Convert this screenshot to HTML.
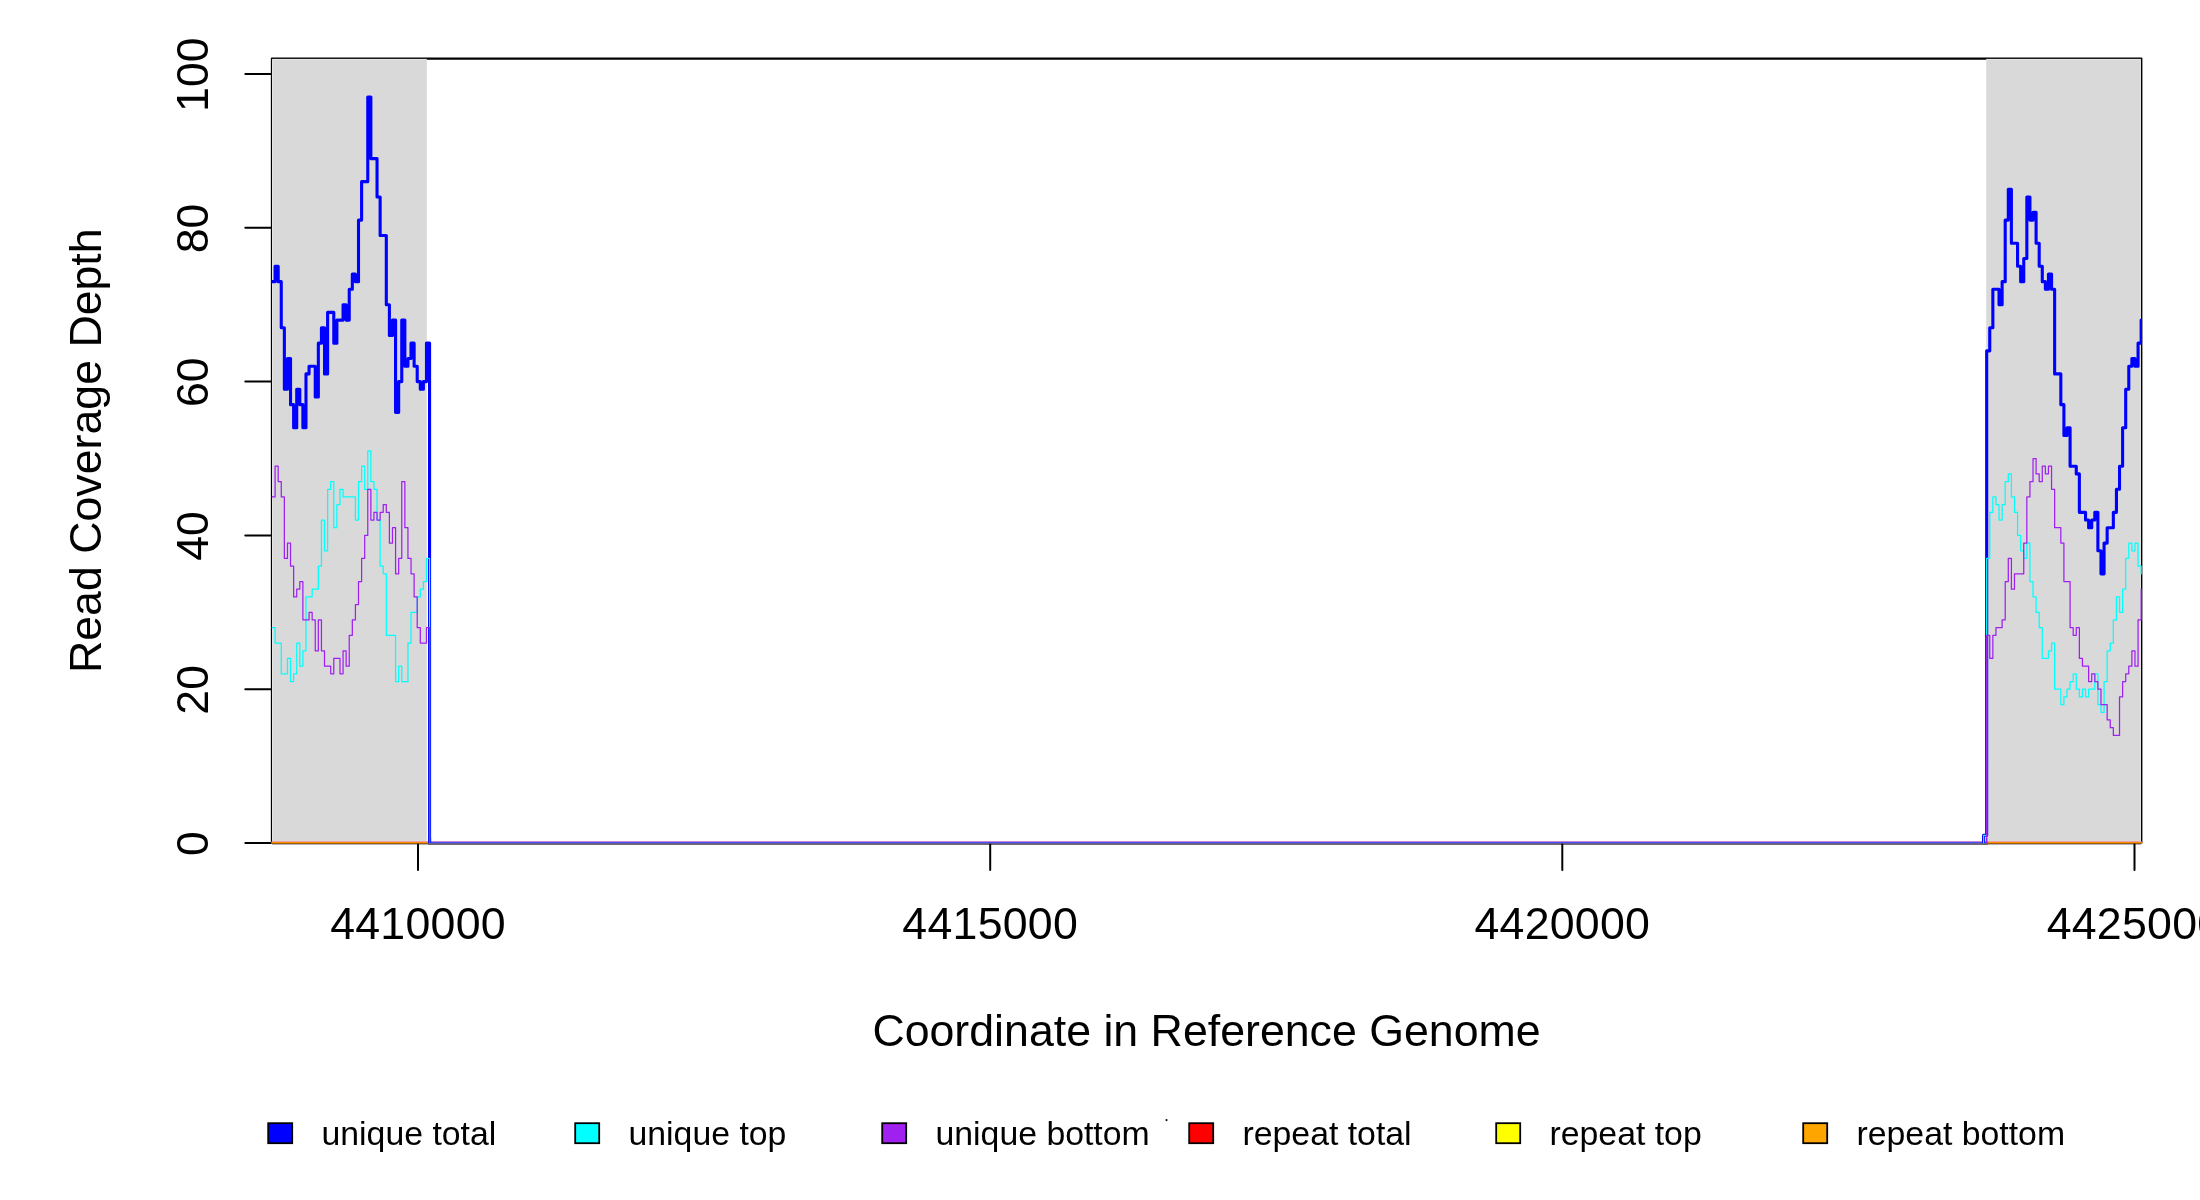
<!DOCTYPE html>
<html><head><meta charset="utf-8"><title>coverage</title>
<style>
html,body{margin:0;padding:0;background:#fff;}
body{width:2200px;height:1200px;overflow:hidden;position:relative;}
svg{position:absolute;left:0;top:0;display:block;will-change:transform;}
text{font-family:"Liberation Sans",sans-serif;fill:#000;}
</style></head><body>
<svg width="2200" height="1200" viewBox="0 0 2200 1200">
<defs><clipPath id="pc"><rect x="271.5" y="58.5" width="1870.6" height="784.9"/></clipPath></defs>
<rect x="0" y="0" width="2200" height="1200" fill="#fff"/>
<path d="M271.9 58.6H2141.3" fill="none" stroke="#000" stroke-width="2.2" stroke-linecap="round"/>
<path d="M271.9 843H2141.3" fill="none" stroke="#000" stroke-width="2" stroke-linecap="round"/>
<path d="M271.5 58.6V843" fill="none" stroke="#000" stroke-width="1.3"/>
<path d="M2141.6 58.6V843" fill="none" stroke="#000" stroke-width="1.6"/>
<rect x="272.15" y="58.9" width="154.65" height="784.50" fill="#d9d9d9"/>
<rect x="1986.2" y="58.9" width="154.70" height="784.50" fill="#d9d9d9"/>
<path d="M272.65 843.4V59.4H426.8M1986.2 59.4H2140.4V843.4" fill="none" stroke="#fff" stroke-opacity="0.3" stroke-width="1"/>
<line x1="245.3" y1="843.00" x2="270.5" y2="843.00" stroke="#000" stroke-width="2" stroke-linecap="round"/>
<line x1="245.3" y1="689.20" x2="270.5" y2="689.20" stroke="#000" stroke-width="2" stroke-linecap="round"/>
<line x1="245.3" y1="535.40" x2="270.5" y2="535.40" stroke="#000" stroke-width="2" stroke-linecap="round"/>
<line x1="245.3" y1="381.60" x2="270.5" y2="381.60" stroke="#000" stroke-width="2" stroke-linecap="round"/>
<line x1="245.3" y1="227.80" x2="270.5" y2="227.80" stroke="#000" stroke-width="2" stroke-linecap="round"/>
<line x1="245.3" y1="74.00" x2="270.5" y2="74.00" stroke="#000" stroke-width="2" stroke-linecap="round"/>
<g clip-path="url(#pc)" fill="none" stroke-linejoin="round" stroke-linecap="round">
<path d="M271.5 843.0H2141.5" stroke="#ff0000" stroke-width="3.1"/>
<path d="M271.5 843.0H2141.5" stroke="#ffff00" stroke-width="1.1"/>
<path d="M271.5 842.7H2141.5" stroke="#ff8c00" stroke-width="2.6"/>
<path d="M272.00 281.63H275.09V266.25H278.18V281.63H281.27V327.77H284.36V389.29H287.45V358.53H290.54V404.67H293.63V427.74H296.72V389.29H299.81V404.67H302.89V427.74H305.98V373.91H309.07V366.22H315.25V396.98H318.34V343.15H321.43V327.77H324.52V373.91H327.61V312.39H333.79V343.15H336.88V320.08H343.06V304.70H346.15V320.08H349.24V289.32H352.33V273.94H355.42V281.63H358.51V220.11H361.60V181.66H367.77V97.07H370.86V158.59H377.04V197.04H380.13V235.49H386.31V304.70H389.40V335.46H392.49V320.08H395.58V412.36H398.67V381.60H401.76V320.08H404.85V366.22H407.94V358.53H411.03V343.15H414.12V366.22H417.21V381.60H420.30V389.29H423.39V381.60H426.48V343.15H429.56V843.00H1983.58V835.31H1986.67V350.84H1989.76V327.77H1992.85V289.32H1999.03V304.70H2002.12V281.63H2005.21V220.11H2008.30V189.35H2011.39V243.18H2017.57V266.25H2020.66V281.63H2023.75V258.56H2026.84V197.04H2029.93V220.11H2033.02V212.42H2036.10V243.18H2039.19V266.25H2042.28V281.63H2045.37V289.32H2048.46V273.94H2051.55V289.32H2054.64V373.91H2060.82V404.67H2063.91V435.43H2067.00V427.74H2070.09V466.19H2076.27V473.88H2079.36V512.33H2085.54V520.02H2088.63V527.71H2091.72V520.02H2094.81V512.33H2097.89V550.78H2100.98V573.85H2104.07V543.09H2107.16V527.71H2113.34V512.33H2116.43V489.26H2119.52V466.19H2122.61V427.74H2125.70V389.29H2128.79V366.22H2131.88V358.53H2134.97V366.22H2138.06V343.15H2141.15V320.08" stroke="#0000ff" stroke-width="3.1"/>
<path d="M272.00 627.68H275.09V643.06H281.27V673.82H287.45V658.44H290.54V681.51H293.63V673.82H296.72V643.06H299.81V666.13H302.89V650.75H305.98V596.92H312.16V589.23H318.34V566.16H321.43V520.02H324.52V550.78H327.61V489.26H330.70V481.57H333.79V527.71H336.88V504.64H339.97V489.26H343.06V496.95H355.42V520.02H358.51V481.57H361.60V466.19H364.69V489.26H367.77V450.81H370.86V481.57H373.95V489.26H377.04V520.02H380.13V566.16H383.22V573.85H386.31V635.37H395.58V681.51H398.67V666.13H401.76V681.51H407.94V643.06H411.03V612.30H417.21V596.92H420.30V589.23H423.39V581.54H426.48V558.47H429.56V843.00H1983.58V835.31H1986.67V558.47H1989.76V512.33H1992.85V496.95H1995.94V504.64H1999.03V520.02H2002.12V504.64H2005.21V481.57H2008.30V473.88H2011.39V496.95H2014.48V512.33H2017.57V535.40H2020.66V550.78H2023.75V558.47H2026.84V543.09H2029.93V581.54H2033.02V596.92H2036.10V612.30H2039.19V627.68H2042.28V658.44H2048.46V650.75H2051.55V643.06H2054.64V689.20H2060.82V704.58H2063.91V696.89H2067.00V689.20H2070.09V681.51H2073.18V673.82H2076.27V689.20H2079.36V696.89H2082.45V689.20H2085.54V696.89H2088.63V689.20H2094.81V673.82H2097.89V704.58H2100.98V712.27H2104.07V681.51H2107.16V650.75H2110.25V643.06H2113.34V619.99H2116.43V596.92H2119.52V612.30H2122.61V589.23H2125.70V558.47H2128.79V543.09H2131.88V550.78H2134.97V543.09H2138.06V566.16H2141.15V573.85" stroke="#00ffff" stroke-width="1.25"/>
<path d="M272.00 496.95H275.09V466.19H278.18V481.57H281.27V496.95H284.36V558.47H287.45V543.09H290.54V566.16H293.63V596.92H296.72V589.23H299.81V581.54H302.89V619.99H309.07V612.30H312.16V619.99H315.25V650.75H318.34V619.99H321.43V650.75H324.52V666.13H330.70V673.82H333.79V658.44H339.97V673.82H343.06V650.75H346.15V666.13H349.24V635.37H352.33V619.99H355.42V604.61H358.51V581.54H361.60V558.47H364.69V535.40H367.77V489.26H370.86V520.02H373.95V512.33H377.04V520.02H380.13V512.33H383.22V504.64H386.31V512.33H389.40V543.09H392.49V527.71H395.58V573.85H398.67V558.47H401.76V481.57H404.85V527.71H407.94V558.47H411.03V573.85H414.12V596.92H417.21V627.68H420.30V643.06H426.48V627.68H429.56V843.00H1986.67V635.37H1989.76V658.44H1992.85V635.37H1995.94V627.68H2002.12V619.99H2005.21V581.54H2008.30V558.47H2011.39V589.23H2014.48V573.85H2023.75V543.09H2026.84V496.95H2029.93V481.57H2033.02V458.50H2036.10V473.88H2039.19V481.57H2042.28V466.19H2045.37V473.88H2048.46V466.19H2051.55V489.26H2054.64V527.71H2060.82V543.09H2063.91V581.54H2070.09V627.68H2073.18V635.37H2076.27V627.68H2079.36V658.44H2082.45V666.13H2088.63V681.51H2091.72V673.82H2094.81V681.51H2097.89V689.20H2100.98V704.58H2107.16V719.96H2110.25V727.65H2113.34V735.34H2119.52V696.89H2122.61V681.51H2125.70V673.82H2128.79V666.13H2131.88V650.75H2134.97V666.13H2138.06V619.99H2141.15V589.23" stroke="#a020f0" stroke-width="1.25"/>
</g>
<rect x="272" y="841" width="156" height="1" fill="#e7a0a5" shape-rendering="crispEdges"/>
<rect x="272" y="842" width="156" height="1" fill="#ff8c00" shape-rendering="crispEdges"/>
<rect x="272" y="843" width="156" height="1" fill="#a05f00" shape-rendering="crispEdges"/>
<rect x="272" y="844" width="156" height="1" fill="#afb2bc" shape-rendering="crispEdges"/>
<rect x="1988" y="841" width="153" height="1" fill="#e7a0a5" shape-rendering="crispEdges"/>
<rect x="1988" y="842" width="153" height="1" fill="#ff8c00" shape-rendering="crispEdges"/>
<rect x="1988" y="843" width="153" height="1" fill="#a05f00" shape-rendering="crispEdges"/>
<rect x="1988" y="844" width="153" height="1" fill="#afb2bc" shape-rendering="crispEdges"/>
<rect x="428" y="841" width="1560" height="1" fill="#c887cd" shape-rendering="crispEdges"/>
<rect x="428" y="842" width="1560" height="1" fill="#4b4bfa" shape-rendering="crispEdges"/>
<rect x="428" y="843" width="1560" height="1" fill="#695f96" shape-rendering="crispEdges"/>
<rect x="428" y="844" width="1560" height="1" fill="#6c6c6c" shape-rendering="crispEdges"/>
<g fill="none" stroke-linecap="butt"><path d="M429.56 838V843M1983.58 838V843" stroke="#0000ff" stroke-width="3.1"/><path d="M429.56 838V843M1983.58 838V843" stroke="#00ffff" stroke-width="1.25"/><path d="M429.56 838V843M1986.67 838V843" stroke="#a020f0" stroke-width="1.25"/></g>
<path d="M418 844.5V870" fill="none" stroke="#000" stroke-width="2" stroke-linecap="round"/>
<path d="M990.2 844.5V870" fill="none" stroke="#000" stroke-width="2" stroke-linecap="round"/>
<path d="M1562.3 844.5V870" fill="none" stroke="#000" stroke-width="2" stroke-linecap="round"/>
<path d="M2134.5 844.5V870" fill="none" stroke="#000" stroke-width="2" stroke-linecap="round"/>
<text x="418" y="939.2" font-size="44.7" text-anchor="middle" letter-spacing="0.25">4410000</text>
<text x="990.2" y="939.2" font-size="44.7" text-anchor="middle" letter-spacing="0.25">4415000</text>
<text x="1562.3" y="939.2" font-size="44.7" text-anchor="middle" letter-spacing="0.25">4420000</text>
<text x="2134.5" y="939.2" font-size="44.7" text-anchor="middle" letter-spacing="0.25">4425000</text>
<text transform="translate(208 843.60) rotate(-90)" font-size="44.7" text-anchor="middle">0</text>
<text transform="translate(208 689.80) rotate(-90)" font-size="44.7" text-anchor="middle">20</text>
<text transform="translate(208 536.00) rotate(-90)" font-size="44.7" text-anchor="middle">40</text>
<text transform="translate(208 382.20) rotate(-90)" font-size="44.7" text-anchor="middle">60</text>
<text transform="translate(208 228.40) rotate(-90)" font-size="44.7" text-anchor="middle">80</text>
<text transform="translate(208 74.60) rotate(-90)" font-size="44.7" text-anchor="middle">100</text>
<text x="1206.5" y="1046" font-size="44.7" text-anchor="middle">Coordinate in Reference Genome</text>
<text transform="translate(101 450.7) rotate(-90)" font-size="44.7" text-anchor="middle">Read Coverage Depth</text>
<rect x="268.2" y="1123.2" width="24" height="20" fill="#0000ff" stroke="#000" stroke-width="1.8"/>
<text x="321.5" y="1145" font-size="33.8">unique total</text>
<rect x="575.2" y="1123.2" width="24" height="20" fill="#00ffff" stroke="#000" stroke-width="1.8"/>
<text x="628.5" y="1145" font-size="33.8">unique top</text>
<rect x="882.2" y="1123.2" width="24" height="20" fill="#a020f0" stroke="#000" stroke-width="1.8"/>
<text x="935.5" y="1145" font-size="33.8">unique bottom</text>
<rect x="1189.2" y="1123.2" width="24" height="20" fill="#ff0000" stroke="#000" stroke-width="1.8"/>
<text x="1242.5" y="1145" font-size="33.8">repeat total</text>
<rect x="1496.2" y="1123.2" width="24" height="20" fill="#ffff00" stroke="#000" stroke-width="1.8"/>
<text x="1549.5" y="1145" font-size="33.8">repeat top</text>
<rect x="1803.2" y="1123.2" width="24" height="20" fill="#ffa500" stroke="#000" stroke-width="1.8"/>
<text x="1856.5" y="1145" font-size="33.8">repeat bottom</text>
<circle cx="1166.5" cy="1120.1" r="1.1" fill="#111"/>
</svg></body></html>
